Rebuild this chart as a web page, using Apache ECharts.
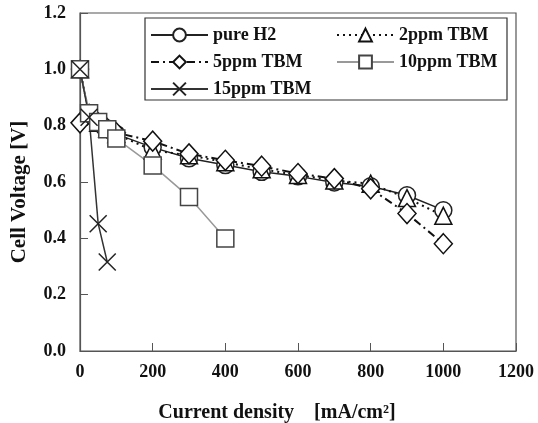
<!DOCTYPE html>
<html>
<head>
<meta charset="utf-8">
<script src="https://cdn.jsdelivr.net/npm/echarts@6/dist/echarts.min.js"></script>
<style>
  html, body { margin: 0; padding: 0; background: #fff; }
  #chart { width: 538px; height: 423px; }
</style>
</head>
<body>
<div id="chart"></div>
<script>
// current density [mA/cm2]
const xFull = [0, 25, 50, 75, 100, 200, 300, 400, 500, 600, 700, 800, 900, 1000];
const x10 = [0, 25, 50, 75, 100, 200, 300, 400];
const x15 = [0, 25, 50, 75];

// cell voltage [V]
const vPureH2 = [1.0, 0.84, 0.81, 0.79, 0.77, 0.723, 0.684, 0.66, 0.636, 0.62, 0.598, 0.585, 0.553, 0.50];
const v2ppm = [1.0, 0.84, 0.81, 0.79, 0.77, 0.712, 0.695, 0.67, 0.645, 0.625, 0.605, 0.594, 0.543, 0.48];
const v5ppm = [0.81, 0.84, 0.81, 0.79, 0.775, 0.745, 0.70, 0.677, 0.656, 0.63, 0.612, 0.576, 0.488, 0.381];
const v10ppm = [1.0, 0.844, 0.813, 0.787, 0.754, 0.659, 0.547, 0.399];
const v15ppm = [1.0, 0.83, 0.452, 0.316];

const xTicks = [0, 200, 400, 600, 800, 1000, 1200];
const yTicks = [0.0, 0.2, 0.4, 0.6, 0.8, 1.0, 1.2];

const pair = (xs, ys) => xs.map((x, i) => [x, ys[i]]);
const font = 'Liberation Serif';
const crossPath = 'path://M0,0L10,10M10,0L0,10';

const chart = echarts.init(document.getElementById('chart'));

function mk(name, xs, ys, symbol, lineType, lineColor, markColor) {
  return {
    name: name,
    type: 'line',
    data: pair(xs, ys),
    symbol: symbol,
    symbolSize: symbol === 'diamond' ? [18, 20] : 17,
    showAllSymbol: true,
    lineStyle: { color: lineColor, width: lineType === 'solid' ? 1.5 : 2, type: lineType },
    itemStyle: { color: '#fff', borderColor: markColor, borderWidth: 1.5 },
    emphasis: { disabled: true },
    animation: false
  };
}

const legendText = { fontFamily: font, fontWeight: 'bold', fontSize: 18, color: '#111' };

const option = {
  animation: false,
  grid: {
    left: 80, right: 22, top: 13, bottom: 72,
    outerBoundsMode: 'none', containLabel: false,
    show: true, borderColor: '#555', borderWidth: 1.2, backgroundColor: 'transparent'
  },
  xAxis: {
    type: 'value',
    min: 0, max: 1200, interval: 200,
    name: 'Current density    [mA/cm²]',
    nameLocation: 'middle',
    nameGap: 52,
    nameTextStyle: { fontFamily: font, fontWeight: 'bold', fontSize: 20, color: '#111', padding: [0, 42, 0, 0] },
    axisLine: { show: true, lineStyle: { color: '#555', width: 1.2 } },
    axisTick: { show: true, inside: true, length: 8, lineStyle: { color: '#555' } },
    axisLabel: {
      margin: 12, fontFamily: font, fontWeight: 'bold', fontSize: 18, color: '#111',
      formatter: v => xTicks.includes(v) ? String(v) : ''
    },
    splitLine: { show: false }
  },
  yAxis: {
    type: 'value',
    min: 0, max: 1.2, interval: 0.2,
    name: 'Cell Voltage [V]',
    nameLocation: 'middle',
    nameGap: 50,
    nameTextStyle: { fontFamily: font, fontWeight: 'bold', fontSize: 21, color: '#111', padding: [0, 20, 0, 0] },
    axisLine: { show: true, lineStyle: { color: '#555', width: 1.2 } },
    axisTick: { show: true, inside: true, length: 8, lineStyle: { color: '#555' } },
    axisLabel: {
      margin: 14, fontFamily: font, fontWeight: 'bold', fontSize: 18, color: '#111',
      formatter: v => {
        const t = yTicks.find(k => Math.abs(k - v) < 1e-6);
        return t === undefined ? '' : t.toFixed(1);
      }
    },
    splitLine: { show: false }
  },
  legend: [
    {
      data: ['pure H2', '5ppm TBM', '15ppm TBM'],
      orient: 'vertical', left: 150, top: 26, padding: 0,
      itemWidth: 57, itemHeight: 16, itemGap: 9,
      textStyle: legendText,
      selectedMode: false
    },
    {
      data: ['2ppm TBM', '10ppm TBM'],
      orient: 'vertical', left: 336, top: 26, padding: 0,
      itemWidth: 57, itemHeight: 16, itemGap: 9,
      textStyle: legendText,
      selectedMode: false
    }
  ],
  graphic: [{
    type: 'rect',
    shape: { x: 145, y: 18, width: 362, height: 82 },
    style: { fill: 'none', stroke: '#333', lineWidth: 1.2 },
    silent: true
  }],
  series: [
    mk('pure H2', xFull, vPureH2, 'circle', 'solid', '#222', '#222'),
    mk('2ppm TBM', xFull, v2ppm, 'triangle', [2, 4], '#111', '#111'),
    mk('5ppm TBM', xFull, v5ppm, 'diamond', [8, 4, 2, 4], '#111', '#111'),
    mk('10ppm TBM', x10, v10ppm, 'rect', 'solid', '#999', '#444'),
    mk('15ppm TBM', x15, v15ppm, crossPath, 'solid', '#333', '#222')
  ]
};

chart.setOption(option);
</script>
</body>
</html>
